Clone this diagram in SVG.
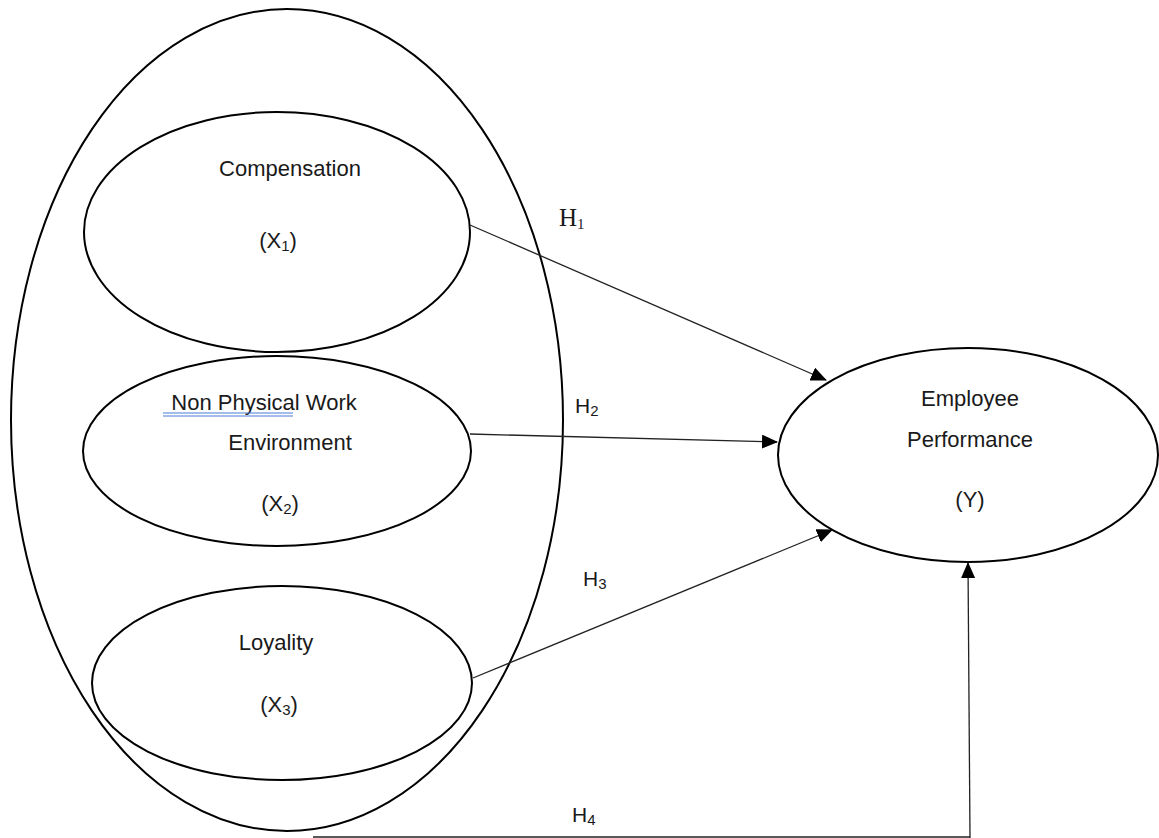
<svg xmlns="http://www.w3.org/2000/svg" width="1159" height="838" viewBox="0 0 1159 838">
<style>
.node{fill:#fff;stroke:#000;stroke-width:2}
.outer{fill:none;stroke:#000;stroke-width:2}
.t{font-family:"Liberation Sans",Arial,sans-serif;font-size:22px;fill:#1a1a1a;text-anchor:middle}
.h{font-family:"Liberation Sans",Arial,sans-serif;font-size:21px;fill:#1a1a1a}
.hs{font-family:"Liberation Serif","Times New Roman",serif;font-size:25px;fill:#1a1a1a}
.sub{font-size:15px}
.c{fill:none;stroke:#222;stroke-width:1.3}
</style>
<defs>
<marker id="ah" markerWidth="16" markerHeight="14" refX="15" refY="7" orient="auto" markerUnits="userSpaceOnUse">
<path d="M0,0 L16,7 L0,14 z" fill="#000"/>
</marker>
</defs>
<rect width="1159" height="838" fill="#fff"/>
<g id="group-x">
<ellipse class="outer" cx="287" cy="420" rx="276" ry="411"/>
</g>
<g id="compensation">
<ellipse class="node" cx="277" cy="232" rx="193" ry="120"/>
<text class="t" x="290" y="176">Compensation</text>
<text class="t" x="278" y="248">(X<tspan class="sub" dy="3">1</tspan><tspan dy="-3">)</tspan></text>
</g>
<g id="environment">
<ellipse class="node" cx="277" cy="451" rx="194" ry="95"/>
<text class="t" x="264" y="410">Non Physical Work</text>
<line x1="163" y1="413" x2="293" y2="413" stroke="#4a7bd6" stroke-width="1"/>
<line x1="163" y1="416" x2="293" y2="416" stroke="#4a7bd6" stroke-width="1"/>
<text class="t" x="290" y="450">Environment</text>
<text class="t" x="280" y="511">(X<tspan class="sub" dy="3">2</tspan><tspan dy="-3">)</tspan></text>
</g>
<g id="loyality">
<ellipse class="node" cx="282" cy="683" rx="190" ry="97"/>
<text class="t" x="276" y="650">Loyality</text>
<text class="t" x="279" y="712">(X<tspan class="sub" dy="3">3</tspan><tspan dy="-3">)</tspan></text>
</g>
<g id="performance">
<ellipse class="node" cx="968" cy="455" rx="190" ry="107"/>
<text class="t" x="970" y="406">Employee</text>
<text class="t" x="970" y="447">Performance</text>
<text class="t" x="970" y="507">(Y)</text>
</g>
<g id="connectors">
<line class="c" x1="470" y1="225" x2="826" y2="380" marker-end="url(#ah)"/>
<line class="c" x1="470" y1="434" x2="777" y2="442" marker-end="url(#ah)"/>
<line class="c" x1="473" y1="678" x2="832" y2="530" marker-end="url(#ah)"/>
<polyline class="c" points="313,837 970,837"/>
<line class="c" x1="970" y1="838" x2="968" y2="563" marker-end="url(#ah)"/>
<text class="hs" x="559" y="226">H<tspan class="sub" dy="3">1</tspan></text>
<text class="h" x="575" y="413">H<tspan class="sub" dy="3">2</tspan></text>
<text class="h" x="583" y="586">H<tspan class="sub" dy="3">3</tspan></text>
<text class="h" x="572" y="822">H<tspan class="sub" dy="3">4</tspan></text>
</g>
</svg>
